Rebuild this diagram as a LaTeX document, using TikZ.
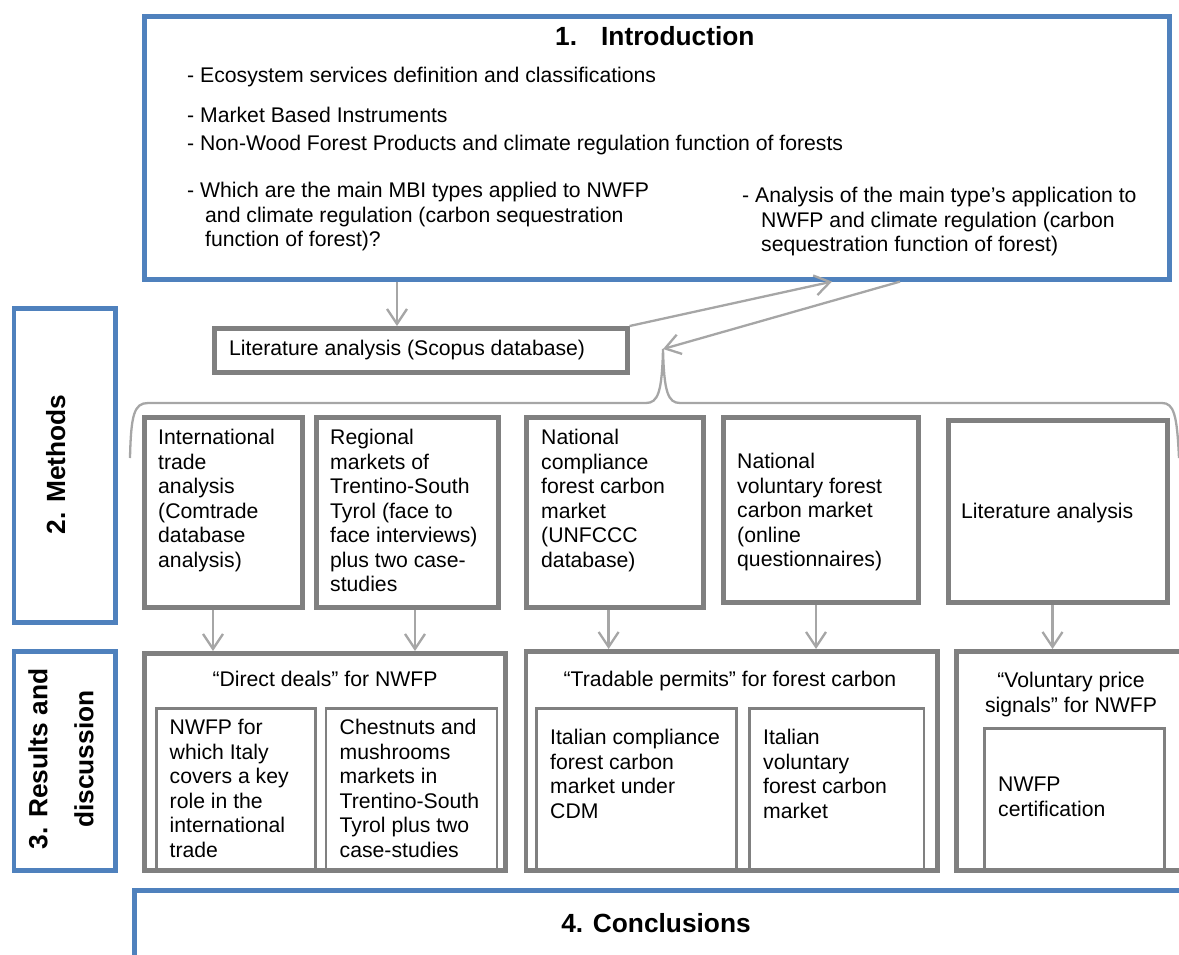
\documentclass[tikz,border=0pt]{standalone}
\usepackage{fontspec}
\setmainfont{Liberation Sans}
\usetikzlibrary{arrows.meta}
\definecolor{blueline}{HTML}{4F81BD}
\definecolor{grayline}{HTML}{808080}
\definecolor{connline}{HTML}{A6A6A6}
\begin{document}
\begin{tikzpicture}[x=1pt,y=-1pt,
  box/.style={draw, inner sep=0pt, anchor=north west},
  bluebox/.style={box, draw=blueline, line width=4.6pt},
  graybox/.style={box, draw=grayline, line width=4.6pt},
  innerbox/.style={box, draw=grayline, line width=2.8pt},
  txt/.style={inner sep=0pt, anchor=north west, align=left, font=\fontsize{21.2}{24.5}\selectfont},
  ttl/.style={inner sep=0pt, font=\fontsize{26.3}{30}\selectfont\bfseries},
  conn/.style={draw=connline, line width=2.3pt, -{Straight Barb[length=15pt,width=20pt]}},
  bracestyle/.style={draw=connline, line width=2.3pt},
]
\useasboundingbox (0,0) rectangle (1179,954);
\clip (0,0) rectangle (1179,954);

% ---------- Introduction ----------
\node[bluebox, minimum width=1025pt, minimum height=263pt] (intro) at (142,14) {};
\node[ttl, anchor=base west] (introttl) at (555,45) {1.\hspace{24pt}Introduction};
\node[txt] (t1) at (187,67) {- Ecosystem services definition and classifications};
\node[txt] (t2) at (187,107) {- Market Based Instruments};
\node[txt] (t3) at (187,135) {- Non-Wood Forest Products and climate regulation function of forests};
\node[txt] (t4) at (187,182) {- Which are the main MBI types applied to NWFP\\\hspace*{18pt}and climate regulation (carbon sequestration\\\hspace*{18pt}function of forest)?};
\node[txt] (t5) at (742,187) {- Analysis of the main type’s application to\\\hspace*{19pt}NWFP and climate regulation (carbon\\\hspace*{19pt}sequestration function of forest)};

% ---------- Literature box ----------
\node[graybox, minimum width=413pt, minimum height=44pt] (lit) at (212,326) {};
\node[txt] (littxt) at (229,340) {Literature analysis (Scopus database)};

% ---------- Side labels ----------
\node[bluebox, minimum width=101.5pt, minimum height=314pt] (mlab) at (11.5,306) {};
\node[ttl, rotate=90, anchor=base] (mlabtxt) at (65,464.5) {2. Methods};
\node[bluebox, minimum width=101.5pt, minimum height=219pt] (rlab) at (11.5,649) {};
\node[ttl, rotate=90, align=center, font=\fontsize{26.3}{46}\selectfont\bfseries] (rlabtxt) at (61,759) {3. Results and\\discussion};

% ---------- Methods boxes ----------
\node[graybox, minimum width=158pt, minimum height=190pt] (b1) at (142,415) {};
\node[graybox, minimum width=182pt, minimum height=190pt] (b2) at (314,415) {};
\node[graybox, minimum width=177pt, minimum height=190pt] (b3) at (524,415) {};
\node[graybox, minimum width=195pt, minimum height=185pt] (b4) at (721,415) {};
\node[graybox, minimum width=219pt, minimum height=182pt] (b5) at (946,418) {};
\node[txt] (b1t) at (158,429) {International\\trade\\analysis\\(Comtrade\\database\\analysis)};
\node[txt] (b2t) at (330,429) {Regional\\markets of\\Trentino-South\\Tyrol (face to\\face interviews)\\plus two case-\\studies};
\node[txt] (b3t) at (541,429) {National\\compliance\\forest carbon\\market\\(UNFCCC\\database)};
\node[txt] (b4t) at (737,453) {National\\voluntary forest\\carbon market\\(online\\questionnaires)};
\node[txt] (b5t) at (961,503) {Literature analysis};

% ---------- Results ----------
\node[innerbox, minimum width=159pt, minimum height=161pt] (i1) at (155,707) {};
\node[innerbox, minimum width=171pt, minimum height=161pt] (i2) at (324.5,707) {};
\node[innerbox, minimum width=200pt, minimum height=161pt] (i3) at (535,707) {};
\node[innerbox, minimum width=174.6pt, minimum height=161pt] (i4) at (748,707) {};
\node[innerbox, minimum width=180pt, minimum height=141pt] (i5) at (983,727) {};
\node[graybox, minimum width=361pt, minimum height=217pt] (g1) at (142,651) {};
\node[graybox, minimum width=411.5pt, minimum height=219pt] (g2) at (523.5,649) {};
\node[graybox, minimum width=300pt, minimum height=219pt] (g3) at (954,649) {};
\node[txt, anchor=base] (g1t) at (325,686) {“Direct deals” for NWFP};
\node[txt, anchor=base] (g2t) at (730,686) {“Tradable permits” for forest carbon};
\node[txt, anchor=north, align=center] (g3t) at (1071,672) {“Voluntary price\\signals” for NWFP};
\node[txt] (i1t) at (169.5,719) {NWFP for\\which Italy\\covers a key\\role in the\\international\\trade};
\node[txt] (i2t) at (339.5,719) {Chestnuts and\\mushrooms\\markets in\\Trentino-South\\Tyrol plus two\\case-studies};
\node[txt] (i3t) at (550,729) {Italian compliance\\forest carbon\\market under\\CDM};
\node[txt] (i4t) at (763,729) {Italian\\voluntary\\forest carbon\\market};
\node[txt] (i5t) at (998,777) {NWFP\\certification};

% ---------- Conclusions ----------
\node[bluebox, minimum width=1100pt, minimum height=120pt] (concl) at (132,888) {};
\node[ttl, anchor=base] (concltxt) at (656,932) {4. Conclusions};

% ---------- Brace ----------
\coordinate (tip) at (663,349);
\draw[bracestyle] (130,458) .. controls (131,415) and (134,403) .. (148,403) -- (646,403)
  .. controls (658,403) and (662,392) .. (tip)
  .. controls (664,392) and (668,403) .. (680,403) -- (1162,403)
  .. controls (1174,403) and (1177,415) .. (1179,458);

% ---------- Connectors ----------
\coordinate (ax0) at (397,0);
\coordinate (ax1) at (832,0);
\coordinate (ax2) at (900,0);
\draw[conn] (intro.south -| ax0) -- (lit.north -| ax0);
\draw[conn] (lit.north east) -- (intro.south -| ax1);
\draw[conn] (intro.south -| ax2) -- (tip);

\coordinate (a1) at (213,0);
\coordinate (a2) at (415,0);
\coordinate (a3) at (608.6,0);
\coordinate (a4) at (816,0);
\coordinate (a5) at (1052.5,0);
\draw[conn] (b1.south -| a1) -- (g1.north -| a1);
\draw[conn] (b2.south -| a2) -- (g1.north -| a2);
\draw[conn] (b3.south -| a3) -- (g2.north -| a3);
\draw[conn] (b4.south -| a4) -- (g2.north -| a4);
\draw[conn] (b5.south -| a5) -- (g3.north -| a5);
\end{tikzpicture}
\end{document}
